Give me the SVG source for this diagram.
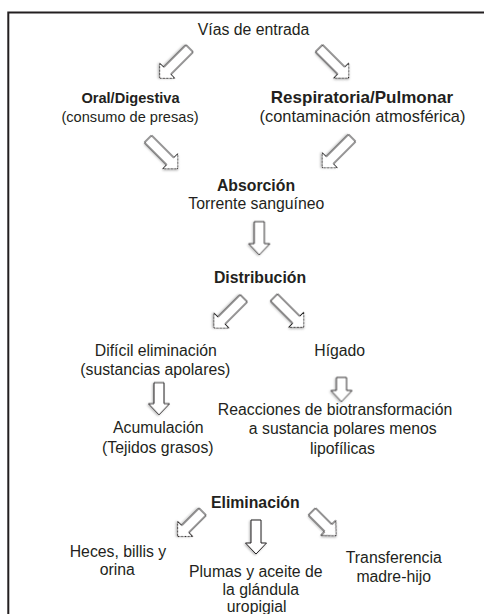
<svg xmlns="http://www.w3.org/2000/svg" xmlns:xlink="http://www.w3.org/1999/xlink" width="484" height="614" viewBox="0 0 484 614">
<style>
  text { font-family: "Liberation Sans", Arial, Helvetica, sans-serif; font-size: 15.8px; fill: #231f20; text-anchor: middle; }
  .b { font-weight: bold; }
  #oral text { font-size: 14.6px; }
  #respiratoria text { font-size: 16.4px; }
  #respiratoria text.b { font-size: 17px; }
  .arr { fill: #ffffff; stroke: #231f20; stroke-width: 1; stroke-linejoin: miter; filter: url(#sh); }
  .frame { stroke: #231f20; stroke-width: 2; fill: none; }
</style>
<defs>
  <filter id="sh" x="-30%" y="-30%" width="160%" height="160%">
    <feDropShadow dx="1" dy="1" stdDeviation="0.8" flood-color="#000" flood-opacity="0.3"/>
  </filter>
  <polygon id="a42" points="0,-5 31.5,-5 31.5,-10.5 42,0 31.5,10.5 31.5,5 0,5"/>
  <polygon id="a35" points="0,-5 24.5,-5 24.5,-10.5 35,0 24.5,10.5 24.5,5 0,5"/>
  <polygon id="a34" points="0,-5 23,-5 23,-10.5 34,0 23,10.5 23,5 0,5"/>
  <polygon id="a33" points="0,-5 22,-5 22,-10.5 33,0 22,10.5 22,5 0,5"/>
  <polygon id="a32" points="0,-5 21,-5 21,-10.5 32,0 21,10.5 21,5 0,5"/>
  <polygon id="a24" points="0,-5 13,-5 13,-10.5 24,0 13,10.5 13,5 0,5"/>
</defs>
<rect x="0" y="0" width="484" height="614" fill="#ffffff"/>
<path class="frame" d="M8.3,614 V12.5 H484"/>

<g id="connectors">
  <use xlink:href="#a42" class="arr" transform="translate(189.5,48.5) rotate(135)"/>
  <use xlink:href="#a42" class="arr" transform="translate(319,48.3) rotate(45)"/>
  <use xlink:href="#a42" class="arr" transform="translate(148,139) rotate(45)"/>
  <use xlink:href="#a42" class="arr" transform="translate(352,138) rotate(135)"/>
  <use xlink:href="#a33" class="arr" transform="translate(259.3,221.7) rotate(90)"/>
  <use xlink:href="#a42" class="arr" transform="translate(243.7,298.3) rotate(135)"/>
  <use xlink:href="#a42" class="arr" transform="translate(274,297.5) rotate(45)"/>
  <use xlink:href="#a32" class="arr" transform="translate(159,382.7) rotate(90)"/>
  <use xlink:href="#a24" class="arr" transform="translate(341.5,377.5) rotate(90)"/>
  <use xlink:href="#a35" class="arr" transform="translate(202.5,511.7) rotate(135)"/>
  <use xlink:href="#a34" class="arr" transform="translate(256,520) rotate(90)"/>
  <use xlink:href="#a34" class="arr" transform="translate(312,511.7) rotate(45)"/>
</g>

<g id="vias"><text x="253.5" y="35">Vías de entrada</text></g>
<g id="oral">
  <text class="b" x="130.5" y="102.5">Oral/Digestiva</text>
  <text x="130" y="121.5">(consumo de presas)</text>
</g>
<g id="respiratoria">
  <text class="b" x="362" y="102.5">Respiratoria/Pulmonar</text>
  <text x="362.5" y="121.5">(contaminación atmosférica)</text>
</g>
<g id="absorcion">
  <text class="b" x="256" y="190.5">Absorción</text>
  <text x="256.3" y="208.5">Torrente sanguíneo</text>
</g>
<g id="distribucion"><text class="b" x="260" y="282.7">Distribución</text></g>
<g id="dificil">
  <text x="155.8" y="356">Difícil eliminación</text>
  <text x="155.3" y="375">(sustancias apolares)</text>
</g>
<g id="higado"><text x="339.7" y="356">Hígado</text></g>
<g id="acumulacion">
  <text x="158.3" y="432.5">Acumulación</text>
  <text x="157.8" y="452.5">(Tejidos grasos)</text>
</g>
<g id="reacciones">
  <text x="335" y="414.5">Reacciones de biotransformación</text>
  <text x="342.8" y="434">a sustancia polares menos</text>
  <text x="342.5" y="453.5">lipofílicas</text>
</g>
<g id="eliminacion"><text class="b" x="255.3" y="508.3">Eliminación</text></g>
<g id="heces">
  <text x="118" y="556.7">Heces, billis y</text>
  <text x="117.2" y="575">orina</text>
</g>
<g id="plumas">
  <text x="255.8" y="576.7">Plumas y aceite de</text>
  <text x="260.8" y="595">la glándula</text>
  <text x="256.7" y="612">uropigial</text>
</g>
<g id="transferencia">
  <text x="393.8" y="563.3">Transferencia</text>
  <text x="393.7" y="581.7">madre-hijo</text>
</g>
</svg>
